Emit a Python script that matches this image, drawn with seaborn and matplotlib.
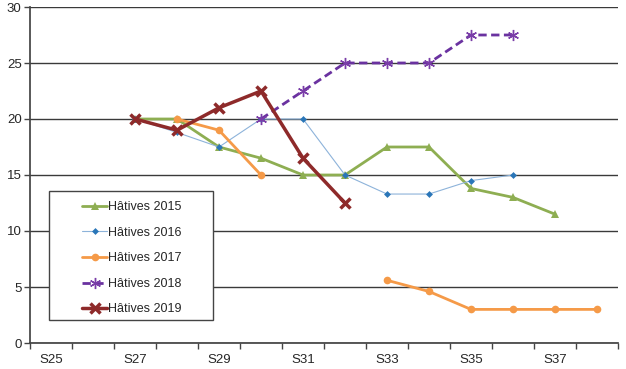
import numpy as np
import pandas as pd
import matplotlib
matplotlib.use("Agg")
import matplotlib.pyplot as plt
import seaborn as sns
from matplotlib.lines import Line2D
from matplotlib.patches import Rectangle

weeks = ["S25", "S26", "S27", "S28", "S29", "S30", "S31", "S32", "S33", "S34", "S35", "S36", "S37", "S38"]
nan = np.nan
h2015 = [nan, nan, 20, 20, 17.5, 16.5, 15, 15, 17.5, 17.5, 13.8, 13, 11.5, nan]
h2016 = [nan, nan, 20, 18.8, 17.5, 20, 20, 15, 13.3, 13.3, 14.5, 15, nan, nan]
h2017 = [nan, nan, nan, 20, 19, 15, nan, nan, 5.6, 4.6, 3, 3, 3, 3]
h2018 = [nan, nan, nan, nan, nan, 20, 22.5, 25, 25, 25, 27.5, 27.5, nan, nan]
h2019 = [nan, nan, 20, 19, 21, 22.5, 16.5, 12.5, nan, nan, nan, nan, nan, nan]
labels = ["Hâtives 2015", "Hâtives 2016", "Hâtives 2017", "Hâtives 2018", "Hâtives 2019"]

sns.set_theme(style="white")
plt.rcParams['font.family'] = ['Liberation Sans', 'DejaVu Sans']

fig = plt.figure(figsize=(6.26, 3.69), dpi=100)
ax = fig.add_axes([30/626, 1-343/369, 588/626, 336/369])

styles = [
    dict(color="#8EAE52", marker="^", markersize=6, linewidth=2.0, linestyle="-", mew=0),
    dict(color="#2A76B8", marker="D", markersize=3.5, linewidth=0.8, linestyle="-", mew=0),
    dict(color="#F59A48", marker="o", markersize=5.5, linewidth=2.0, linestyle="-", mew=0),
    dict(color="#7A3DA8", marker=(6, 2, 0), markersize=8, linewidth=2.0, linestyle=(0, (3, 1.6)), mew=1.0),
    dict(color="#8E2A2A", marker="x", markersize=7, linewidth=2.5, linestyle="-", mew=2.5),
]
line_colors = ["#8EAE52", "#8DB3DA", "#F59A48", "#6A32A0", "#8E2A2A"]

series = [h2015, h2016, h2017, h2018, h2019]
idx = np.arange(len(weeks))
handles = []
for vals, st, lc, lab in zip(series, styles, line_colors, labels):
    df = pd.DataFrame({"x": idx, "y": vals})
    df["seg"] = df["y"].isna().cumsum()
    df = df.dropna()
    for _, g in df.groupby("seg"):
        sns.lineplot(data=g, x="x", y="y", ax=ax, color=lc, linewidth=st["linewidth"],
                     linestyle=st["linestyle"], marker=st["marker"], markersize=st["markersize"],
                     markerfacecolor=st["color"], markeredgecolor=st["color"], markeredgewidth=st["mew"],
                     estimator=None, sort=False, legend=False, zorder=3)
    handles.append(Line2D([0], [0], color=lc, linewidth=st["linewidth"], linestyle=st["linestyle"],
                          marker=st["marker"], markersize=st["markersize"], markerfacecolor=st["color"],
                          markeredgecolor=st["color"], markeredgewidth=st["mew"]))

ax.set_xlim(-0.5, 13.5)
ax.set_ylim(0, 30)
ax.set_yticks(np.arange(0, 31, 5))
ax.yaxis.grid(True, color="#3a3a3a", linewidth=1.0)
ax.set_axisbelow(True)
for s in ["top", "right"]:
    ax.spines[s].set_visible(False)
ax.spines["left"].set_color("#444444")
ax.spines["bottom"].set_color("#444444")

ax.set_xticks(np.arange(-0.5, 14, 1))
ax.set_xticklabels([])
ax.set_xticks(np.arange(0, 14, 2), minor=True)
ax.set_xticklabels(weeks[::2], minor=True)
ax.tick_params(axis="x", which="major", direction="out", length=4, width=1, color="#444444", bottom=True)
ax.tick_params(axis="x", which="minor", length=0, labelsize=9.5, pad=8)
ax.tick_params(axis="y", direction="out", length=4, width=1, color="#444444", left=True, labelsize=9.5, pad=2)
ax.set_xlabel("")
ax.set_ylabel("")

# legend frame (Excel-style, with generous padding)
frame = Rectangle(((49-30)/588, (343-320)/336), 164/588, 129/336, transform=ax.transAxes,
                  facecolor="white", edgecolor="#444444", linewidth=1.0, zorder=5)
ax.add_patch(frame)
leg = ax.legend(handles, labels, loc="upper left", bbox_to_anchor=((82-30)/588, (343-201)/336),
                frameon=False, fontsize=9, handlelength=2.0, labelspacing=1.09,
                borderpad=0, handletextpad=0.1, borderaxespad=0)
leg.set_zorder(6)

fig.savefig("out.png", dpi=100)
